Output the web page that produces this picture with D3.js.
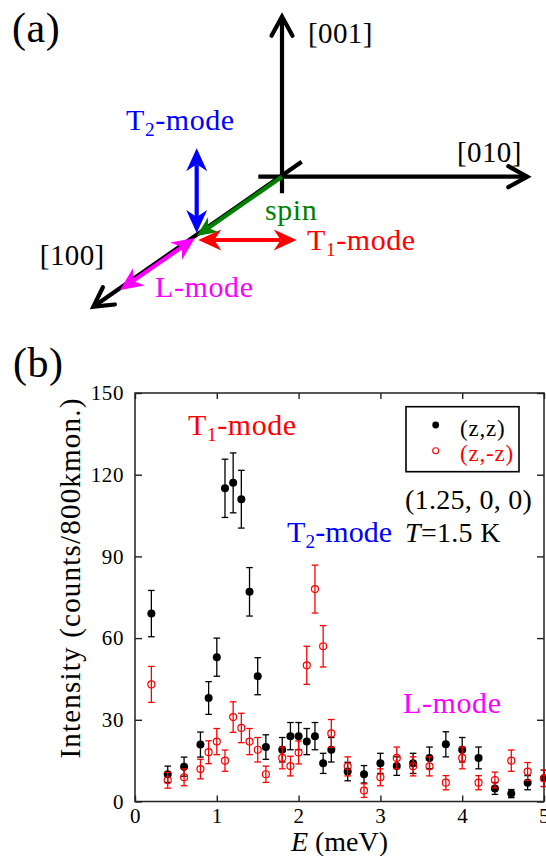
<!DOCTYPE html>
<html>
<head>
<meta charset="utf-8">
<script src="https://cdn.jsdelivr.net/npm/d3@7"></script>
<style>
  body { margin: 0; background: #fff; }
  svg text { font-family: "Liberation Serif", LiberationSerif, Tinos, "Nimbus Roman", Times, "DejaVu Serif", serif; }
</style>
</head>
<body>
<div id="fig"></div>
<script>
// ---- panel (b) data ----
const energy = [0.2, 0.4, 0.6, 0.8, 0.9, 1.0, 1.1, 1.2, 1.3, 1.4, 1.5, 1.6, 1.8, 1.9, 2.0, 2.1,
                2.2, 2.3, 2.4, 2.6, 2.8, 3.0, 3.2, 3.4, 3.6, 3.8, 4.0, 4.2, 4.4, 4.6, 4.8, 5.0];
const zzCounts = [69, 10, 12.8, 20.9, 38, 53, 115, 117, 111, 77, 46, 20, 19, 24, 24, 22,
                  24, 14, 19, 11, 10, 14, 13, 14, 16, 21, 19, 16, 4.8, 2.9, 6.9, 8.5];
const zzErr = [8.5, 3, 3.5, 4.6, 6, 7, 10.7, 11, 10.6, 8.9, 6.8, 4.5, 4.5, 5, 5, 4.8,
               5, 3.7, 4.5, 3.4, 3.2, 3.7, 3.4, 3.7, 4, 4.6, 4.5, 4, 2.2, 1.5, 2.6, 3];
const zmzCounts = [43, 7.8, 8.9, 11.9, 18.1, 22, 15, 31, 27, 22, 19, 10, 16, 13, 18, 50,
                   78, 57, 25, 12.9, 4, 8.9, 16, 12.9, 12.9, 6.9, 16, 6.9, 7.9, 15, 11, 8.5];
const zmzErr = [6.6, 2.9, 3.1, 3.6, 4.2, 4.8, 3.9, 5.6, 5.4, 4.8, 4.5, 3, 4, 3.6, 4.2, 7,
                8.8, 7.6, 5.1, 3.5, 2.5, 3.1, 4, 3.5, 3.5, 2.6, 4, 2.6, 2.9, 3.9, 3.3, 3];
const xTicks = [0, 1, 2, 3, 4, 5];
const yTicks = [0, 30, 60, 90, 120, 150];

// ---- panel (a) vectors, in diagram units (origin = crossing of crystal axes) ----
const axisNames = ["[010]", "[001]", "[100]"];
const axisFrom = [[-2.37, 0], [0, -1.66], [1.97, 1.5]];
const axisTo = [[24.53, 0], [0, 16.0], [-18.87, -13.0]];
const modeNames = ["spin", "T2-mode", "T1-mode", "L-mode"];
const modeFrom = [[0, 0], [-8.53, -5.63], [-8.37, -6.33], [-8.7, -6.13]];
const modeTo = [[-8.53, -5.93], [-8.53, 2.84], [1.47, -6.33], [-16.2, -11.33]];
const modeDouble = [false, true, true, true];
const modeColor = ["#008000", "#0000ff", "#ff0000", "#ff00ff"];

const FONT = '"Liberation Serif", LiberationSerif, Tinos, "Nimbus Roman", Times, "DejaVu Serif", serif';
const W = 546, H = 856;
const svg = d3.select("#fig").append("svg")
  .attr("width", W)
  .attr("height", H)
  .attr("font-family", FONT);

// subscripted label like T<sub>1</sub>-mode
function label(x, y, parts, color, size, spacing) {
  const t = svg.append("text")
    .attr("x", x).attr("y", y)
    .attr("fill", color)
    .attr("font-size", size)
    .attr("letter-spacing", spacing || 0);
  if (typeof parts === "string") return t.text(parts);
  t.append("tspan").text(parts[0]);
  t.append("tspan").attr("font-size", size * 0.64).attr("dy", 6).text(parts[1]);
  t.append("tspan").attr("dy", -6).text(parts[2]);
  return t;
}

// ================= panel (a) =================
const sx = d3.scaleLinear().domain([0, 1]).range([282, 292]);
const sy = d3.scaleLinear().domain([0, 1]).range([176.7, 166.7]);
const pt = p => [sx(p[0]), sy(p[1])];

function unit(a, b) {
  const dx = b[0] - a[0], dy = b[1] - a[1];
  const l = Math.hypot(dx, dy);
  return [dx / l, dy / l];
}

function stealth(tip, d, L, Wd, N) {
  const px = -d[1], py = d[0];
  const bx = tip[0] - d[0] * L, by = tip[1] - d[1] * L;
  return `M${tip[0]},${tip[1]}L${bx + px * Wd},${by + py * Wd}` +
    `L${tip[0] - d[0] * N},${tip[1] - d[1] * N}L${bx - px * Wd},${by - py * Wd}Z`;
}

const ga = svg.append("g");

// crystal axes with open chevron heads
axisNames.forEach((n, i) => {
  const p0 = pt(axisFrom[i]), p1 = pt(axisTo[i]);
  const d = unit(p0, p1);
  ga.append("line")
    .attr("x1", p0[0]).attr("y1", p0[1])
    .attr("x2", p1[0]).attr("y2", p1[1])
    .attr("stroke", "#000").attr("stroke-width", 4.2);
  const bx = p1[0] - d[0] * 19, by = p1[1] - d[1] * 19;
  ga.append("path")
    .attr("d", `M${bx - d[1] * 10.5},${by + d[0] * 10.5}L${p1[0]},${p1[1]}L${bx + d[1] * 10.5},${by - d[0] * 10.5}`)
    .attr("fill", "none").attr("stroke", "#000").attr("stroke-width", 4.2)
    .attr("stroke-linecap", "round");
});

// spin and mode arrows
modeNames.forEach((n, i) => {
  const p0 = pt(modeFrom[i]), p1 = pt(modeTo[i]);
  const d = unit(p0, p1);
  const L = i === 0 ? 20 : 23, Wd = i === 0 ? 9 : 10.5, N = i === 0 ? 14 : 16;
  const s0 = modeDouble[i] ? [p0[0] + d[0] * N, p0[1] + d[1] * N] : p0;
  ga.append("line")
    .attr("x1", s0[0]).attr("y1", s0[1])
    .attr("x2", p1[0] - d[0] * N).attr("y2", p1[1] - d[1] * N)
    .attr("stroke", modeColor[i]).attr("stroke-width", 4.2);
  ga.append("path").attr("d", stealth(p1, d, L, Wd, N)).attr("fill", modeColor[i]);
  if (modeDouble[i]) {
    ga.append("path").attr("d", stealth(p0, [-d[0], -d[1]], L, Wd, N)).attr("fill", modeColor[i]);
  }
});

label(12, 42, "(a)", "#000", 42, 0.5);
label(308, 43, "[001]", "#000", 29, 0.4);
label(457, 162, "[010]", "#000", 29, 0.4);
label(104.7, 265, "[100]", "#000", 29, 0.4).attr("text-anchor", "end");
label(126, 130, ["T", "2", "-mode"], "#0000ff", 30, 0.6);
label(265, 220, "spin", "#008000", 30, 0.6);
label(307, 250, ["T", "1", "-mode"], "#ff0000", 30, 0.6);
label(155, 297, "L-mode", "#ff00ff", 30, 0.6);

// ================= panel (b) =================
const x = d3.scaleLinear().domain([0, 5]).range([135, 544]);
const y = d3.scaleLinear().domain([0, 150]).range([801.5, 393]);

label(13, 377, "(b)", "#000", 42, 0.5);

const axisStyle = g => {
  g.select(".domain").remove();
  g.selectAll(".tick line").attr("stroke", "#222").attr("stroke-width", 1.4);
  g.selectAll(".tick text").attr("fill", "#000").attr("font-size", 21)
    .attr("font-family", FONT).attr("letter-spacing", 0.6);
};

svg.append("g")
  .attr("transform", `translate(0,${y(0)})`)
  .call(d3.axisBottom(x).tickValues(xTicks).tickSize(-6).tickPadding(7).tickFormat(d3.format("d")))
  .call(axisStyle);
svg.append("g")
  .attr("transform", `translate(0,${y(150)})`)
  .call(d3.axisTop(x).tickValues(xTicks).tickSize(-6).tickFormat(""))
  .call(axisStyle);
svg.append("g")
  .attr("transform", `translate(${x(0)},0)`)
  .call(d3.axisLeft(y).tickValues(yTicks).tickSize(-7).tickPadding(11))
  .call(axisStyle);
svg.append("g")
  .attr("transform", `translate(${x(5)},0)`)
  .call(d3.axisRight(y).tickValues(yTicks).tickSize(-7).tickFormat(""))
  .call(axisStyle);

svg.append("rect")
  .attr("x", x(0)).attr("y", y(150))
  .attr("width", x(5) - x(0)).attr("height", y(0) - y(150))
  .attr("fill", "none").attr("stroke", "#222").attr("stroke-width", 1.5);

// axis titles
svg.append("text")
  .attr("transform", `translate(80,578) rotate(-90)`)
  .attr("text-anchor", "middle")
  .attr("font-size", 29)
  .attr("letter-spacing", 1.2)
  .text("Intensity (counts/800kmon.)");
const xl = svg.append("text")
  .attr("x", x(2.5)).attr("y", 851)
  .attr("text-anchor", "middle")
  .attr("font-size", 28);
xl.append("tspan").attr("font-style", "italic").text("E");
xl.append("tspan").text(" (meV)");

// error bars + markers
function series(vals, errs, color, filled) {
  const g = svg.append("g");
  const rows = energy.map((e, i) => ({ e, v: vals[i], s: errs[i] }));
  g.selectAll("line.bar").data(rows).join("line")
    .attr("x1", d => x(d.e)).attr("x2", d => x(d.e))
    .attr("y1", d => y(d.v - d.s)).attr("y2", d => y(d.v + d.s))
    .attr("stroke", color).attr("stroke-width", 1.3);
  [-1, 1].forEach(k => {
    g.selectAll(null).data(rows).join("line")
      .attr("x1", d => x(d.e) - 3.3).attr("x2", d => x(d.e) + 3.3)
      .attr("y1", d => y(d.v + k * d.s)).attr("y2", d => y(d.v + k * d.s))
      .attr("stroke", color).attr("stroke-width", 1.3);
  });
  g.selectAll("circle").data(rows).join("circle")
    .attr("cx", d => x(d.e)).attr("cy", d => y(d.v))
    .attr("r", filled ? 4 : 3.5)
    .attr("fill", filled ? color : "none")
    .attr("stroke", color).attr("stroke-width", filled ? 0 : 1.2);
}
series(zzCounts, zzErr, "#000", true);
series(zmzCounts, zmzErr, "#ff0000", false);

// annotations
label(188, 435, ["T", "1", "-mode"], "#ff0000", 30, 0.6);
label(287, 541.7, ["T", "2", "-mode"], "#0000ff", 30, 0.1);
label(403, 713, "L-mode", "#ff00ff", 30, 0.6);
label(405, 509, "(1.25, 0, 0)", "#000", 28, 0.3);
const tl = svg.append("text").attr("x", 405).attr("y", 541.7).attr("font-size", 28)
  .attr("letter-spacing", 0.3);
tl.append("tspan").attr("font-style", "italic").text("T");
tl.append("tspan").text("=1.5 K");

// legend
const lg = svg.append("g");
lg.append("rect")
  .attr("x", 406).attr("y", 406.7).attr("width", 113).attr("height", 65)
  .attr("fill", "#fff").attr("stroke", "#000").attr("stroke-width", 1.6);
lg.append("circle").attr("cx", 435.7).attr("cy", 425).attr("r", 3.4).attr("fill", "#000");
lg.append("circle").attr("cx", 435.7).attr("cy", 450.7).attr("r", 3)
  .attr("fill", "none").attr("stroke", "#ff0000").attr("stroke-width", 1.1);
lg.append("text").attr("x", 460).attr("y", 436).attr("font-size", 23)
  .attr("letter-spacing", 0.8).text("(z,z)");
lg.append("text").attr("x", 460).attr("y", 461).attr("font-size", 23)
  .attr("letter-spacing", 0.8).attr("fill", "#ff0000").text("(z,-z)");
</script>
</body>
</html>
